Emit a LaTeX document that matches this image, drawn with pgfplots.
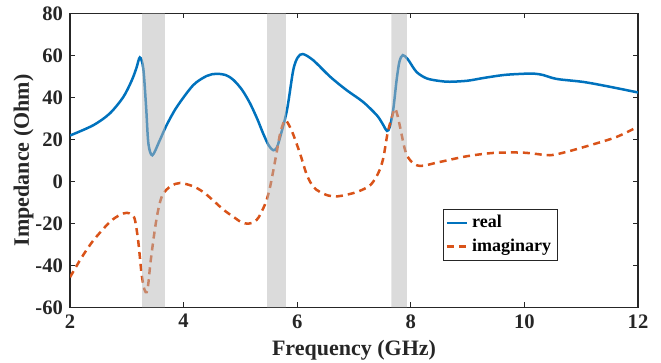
\documentclass[border=0pt]{standalone}
\usepackage{fontspec}
\setmainfont{Liberation Serif}
\usepackage{pgfplots}
\pgfplotsset{compat=1.18}
\definecolor{mblue}{RGB}{0,114,189}
\definecolor{morange}{RGB}{217,83,25}
\definecolor{axisgray}{RGB}{38,38,38}
\definecolor{bandgray}{gray}{0.72}

\begin{document}
\begin{tikzpicture}
\begin{axis}[
  scale only axis, width=284pt, height=147pt,
  xmin=2, xmax=12, ymin=-60, ymax=80,
  xtick={2,4,...,12}, xticklabels={2,4,6,8,10,12},
  ytick={-60,-40,...,80}, yticklabels={-60,-40,-20,0,20,40,60,80},
  tick align=inside, major tick length=2.5pt,
  axis line style={axisgray, line width=0.6pt},
  every tick/.style={axisgray, line width=0.6pt},
  ticklabel style={font=\fontsize{10.3}{12}\selectfont\bfseries, text=axisgray},
  xlabel={Frequency (GHz)}, ylabel={Impedance (Ohm)},
  label style={font=\fontsize{11}{13}\selectfont\bfseries, text=axisgray},
  xlabel style={at={(axis description cs:0.5,-0.1463)}, anchor=center},
  ylabel style={at={(axis description cs:-0.0819,0.5)}, anchor=center},
  legend style={at={(axis cs:8.57,-13)}, anchor=north west, draw=axisgray,
    line width=0.5pt, fill=white, font=\fontsize{9}{10.5}\selectfont\bfseries,
    inner xsep=1pt, inner ysep=1pt, row sep=0pt},
  legend cell align=left,
  legend image code/.code={\draw[#1] (0pt,0pt) -- (10pt,0pt);},
]

% real part
\addplot[mblue, line width=1.25pt, smooth, tension=0.5] coordinates {
  (2.00,21.8) (2.41,26.7) (2.70,32.3) (2.94,40.2) (3.09,48.2) (3.17,54.0)
  (3.23,59.0) (3.29,53.8) (3.34,35.4) (3.38,18.0) (3.45,12.4) (3.58,19.5)
  (3.70,26.7) (3.88,35.4) (4.17,45.8) (4.41,50.2) (4.58,51.2) (4.75,50.5)
  (4.88,48.2) (5.03,43.5) (5.17,37.1) (5.30,29.5) (5.40,22.8) (5.50,17.0)
  (5.58,14.8) (5.64,16.0) (5.70,21.1) (5.82,33.9) (5.93,52.9) (6.01,59.0)
  (6.10,60.6) (6.28,57.7) (6.58,49.8) (6.87,43.4) (7.16,37.8) (7.40,31.5)
  (7.50,27.5) (7.58,24.0) (7.63,25.9) (7.69,34.0) (7.75,48.2) (7.80,57.0)
  (7.86,60.1) (7.95,58.0) (8.10,52.1) (8.28,49.0) (8.50,47.8) (8.69,47.4)
  (9.00,47.9) (9.28,49.2) (9.63,50.6) (9.90,51.1) (10.16,51.3) (10.33,50.6)
  (10.48,49.3) (10.63,48.5) (11.04,47.3) (11.45,45.3) (12.00,42.3)
};
\addlegendentry{real}

% imaginary part
\addplot[morange, line width=1.25pt, dash pattern=on 3.5pt off 2.5pt, smooth, tension=0.5] coordinates {
  (2.00,-45.7) (2.20,-36.5) (2.41,-28.2) (2.70,-19.4) (2.88,-16.0) (3.00,-15.0)
  (3.08,-15.8) (3.14,-18.0) (3.20,-28.2) (3.26,-44.0) (3.31,-51.5) (3.35,-52.8)
  (3.38,-48.5) (3.42,-38.0) (3.50,-21.8) (3.57,-11.5) (3.64,-5.9) (3.78,-2.2)
  (3.94,-0.8) (4.17,-2.4) (4.35,-5.2) (4.52,-9.1) (4.70,-13.5) (4.88,-17.0)
  (5.02,-19.5) (5.14,-20.2) (5.25,-19.2) (5.32,-17.2) (5.40,-13.0) (5.46,-9.1)
  (5.52,-3.0) (5.58,5.2) (5.65,15.5) (5.70,22.8) (5.76,28.0) (5.80,29.1)
  (5.86,26.5) (5.93,22.3) (6.05,13.2) (6.17,3.0) (6.28,-2.5) (6.40,-5.1)
  (6.55,-6.8) (6.70,-7.2) (6.85,-6.5) (6.99,-5.6) (7.15,-4.0) (7.28,-2.0)
  (7.38,1.5) (7.46,6.0) (7.52,11.6) (7.59,22.8) (7.66,29.9) (7.72,34.6)
  (7.76,32.0) (7.81,26.0) (7.90,14.8) (7.99,10.0) (8.16,7.3) (8.51,9.2)
  (8.98,11.9) (9.45,13.5) (9.92,13.7) (10.16,13.2) (10.45,12.4) (10.74,14.0)
  (11.21,17.6) (11.62,21.1) (11.97,25.6)
};
\addlegendentry{imaginary}

% shaded frequency bands
\addplot[forget plot, draw=none, fill=bandgray, fill opacity=0.5]
  coordinates {(3.27,-60) (3.67,-60) (3.67,80) (3.27,80)} \closedcycle;
\addplot[forget plot, draw=none, fill=bandgray, fill opacity=0.5]
  coordinates {(5.47,-60) (5.80,-60) (5.80,80) (5.47,80)} \closedcycle;
\addplot[forget plot, draw=none, fill=bandgray, fill opacity=0.5]
  coordinates {(7.66,-60) (7.93,-60) (7.93,80) (7.66,80)} \closedcycle;
\end{axis}
\pgfresetboundingbox
\path[use as bounding box] ([shift={(-35pt,-27.65pt)}]current axis.south west)
  rectangle ([shift={(11.5pt,6.65pt)}]current axis.north east);
\end{tikzpicture}
\end{document}
